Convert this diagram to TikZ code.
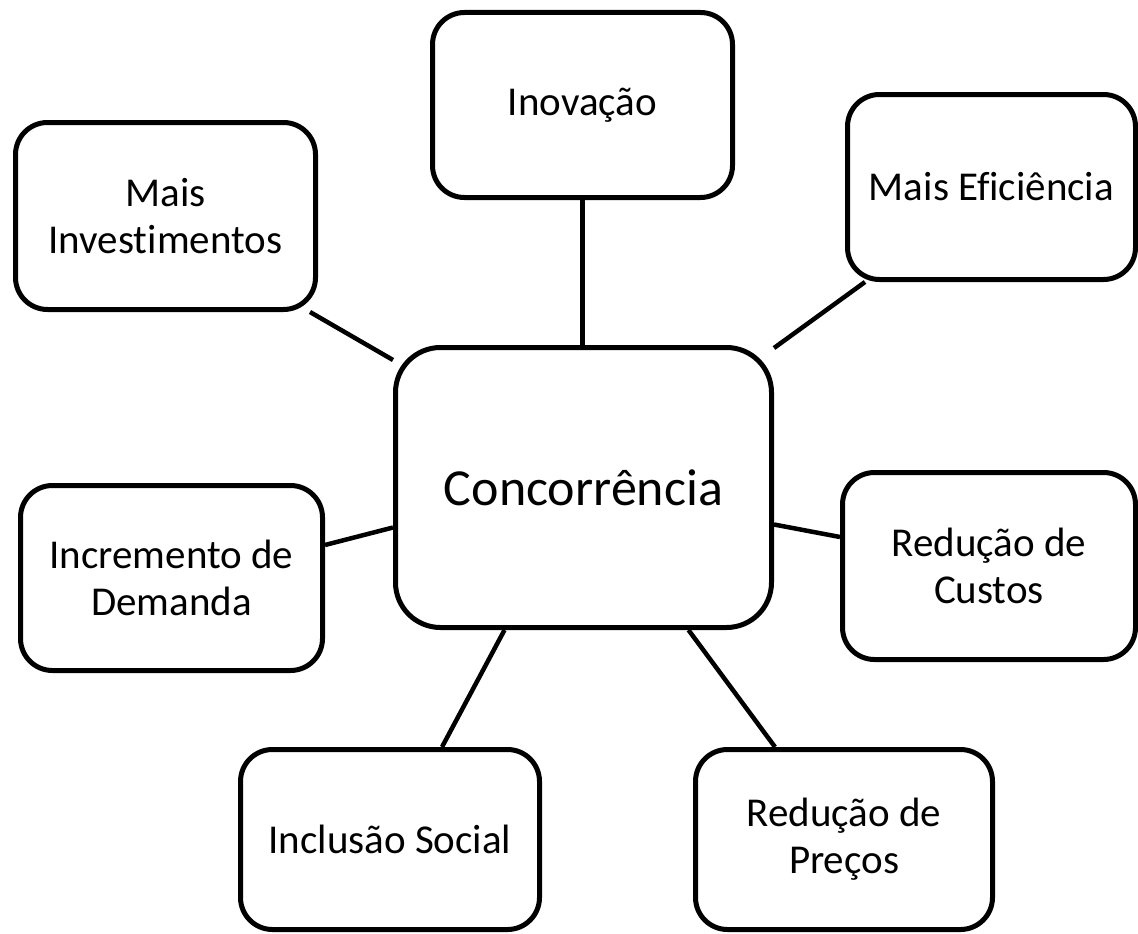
\documentclass[tikz,border=0pt]{standalone}
\usepackage{fontspec}
\setmainfont[Ligatures={NoCommon,NoDiscretionary}]{Carlito}
\begin{document}
\begin{tikzpicture}[x=1pt,y=-1pt,
  box/.style={draw=black, line width=5pt, rounded corners=32pt, fill=white,
    inner sep=0pt, align=center, font=\fontsize{41}{47}\selectfont},
  hub/.style={box, rounded corners=45pt, font=\fontsize{52}{60}\selectfont},
  link/.style={draw=black, line width=4.5pt}]
\useasboundingbox (0,0) rectangle (1138,934);
\node[hub, minimum width=376pt, minimum height=280pt] (c) at (583.5,487.5) {Concorrência};
\node[box, minimum width=300pt, minimum height=185pt] (ino) at (582.5,105) {Inovação};
\node[box, minimum width=300pt, minimum height=187pt] (mi) at (165.5,216) {Mais\\Investimentos};
\node[box, minimum width=288pt, minimum height=185pt] (me) at (991.5,187) {Mais Eficiência};
\node[box, minimum width=302pt, minimum height=185pt] (inc) at (171.5,578) {Incremento de\\Demanda};
\node[box, minimum width=293pt, minimum height=187pt] (cu) at (989,566) {Redução de\\Custos};
\node[box, minimum width=299pt, minimum height=180pt] (is) at (390,839.5) {Inclusão Social};
\node[box, minimum width=297pt, minimum height=180pt] (pr) at (844,839.5) {Redução de\\Preços};
\draw[link] (ino.south) -- (ino.south |- c.north);
\draw[link] ([xshift=-8pt]mi.south east) -- ([yshift=-15pt]c.north west);
\draw[link] ([xshift=20pt]me.south west) -- ([yshift=-3pt]c.north east);
\draw[link] ([yshift=33pt]inc.east) -- ([yshift=-40pt]c.west);
\draw[link] ([yshift=-37pt]c.east) -- ([yshift=29pt]cu.west);
\draw[link] ([xshift=-79pt]c.south) -- ([xshift=52pt]is.north);
\draw[link] ([xshift=105pt]c.south) -- ([xshift=-69pt]pr.north);
\end{tikzpicture}
\end{document}
